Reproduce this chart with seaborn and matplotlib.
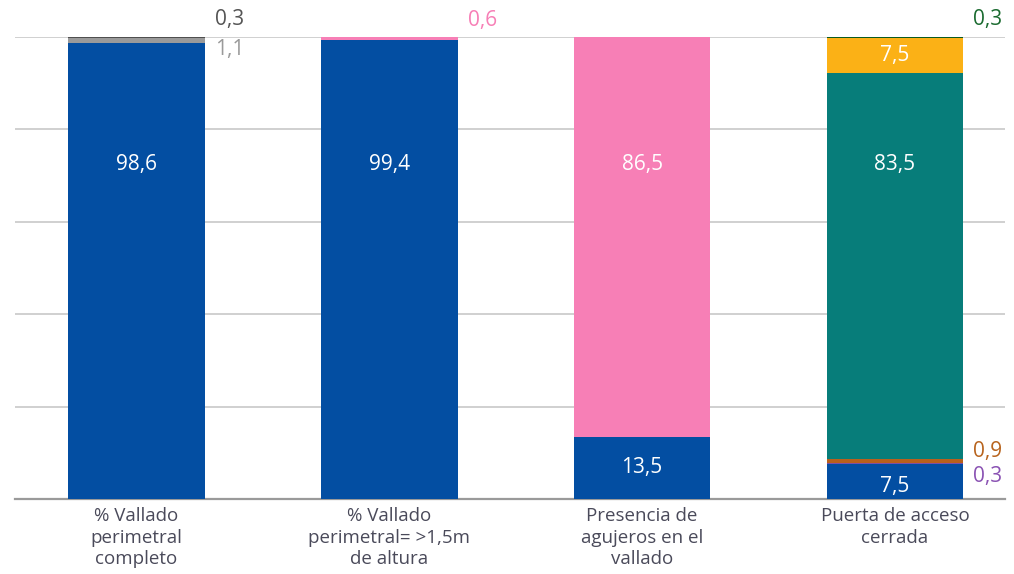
import matplotlib
matplotlib.use("Agg")
import matplotlib.pyplot as plt
import seaborn as sns
import pandas as pd
import numpy as np

categories = ["% Vallado\nperimetral\ncompleto",
              "% Vallado\nperimetral= >1,5m\nde altura",
              "Presencia de\nagujeros en el\nvallado",
              "Puerta de acceso\ncerrada"]

# layers bottom -> top
azul = [98.6, 99.4, 13.5, 7.5]
morado = [0, 0, 0, 0.3]
naranja = [0, 0, 0, 0.9]
rosa = [0, 0.6, 86.5, 0]
teal = [0, 0, 0, 83.5]
gris_claro = [1.1, 0, 0, 0]
amarillo = [0, 0, 0, 7.5]
gris_oscuro = [0.3, 0, 0, 0]
verde = [0, 0, 0, 0.3]

layers = [azul, morado, naranja, rosa, teal, gris_claro, amarillo, gris_oscuro, verde]
colors = ["#034ea2", "#7d4ea6", "#b8601c", "#f77fb6", "#077d7a",
          "#9a9a9a", "#fbb116", "#4f4f4f", "#0b5a1f"]
label_colors = ["#ffffff", "#8a52b3", "#b8641e", "#f77fb6", "#ffffff",
                "#9a9a9a", "#ffffff", "#555555", "#1b6b30"]

sns.set_theme(style="white")
plt.rcParams["font.family"] = ["Open Sans", "DejaVu Sans"]

fig = plt.figure(figsize=(10.14, 5.74), dpi=100)
ax = fig.add_axes([0.0148, 0.1307, 0.9763, 0.8048])

cum = np.cumsum(np.array(layers, dtype=float), axis=0)
for k in range(len(layers) - 1, -1, -1):
    df = pd.DataFrame({"cat": categories, "val": cum[k]})
    sns.barplot(data=df, x="cat", y="val", color=colors[k], width=0.54,
                saturation=1, ax=ax, linewidth=0, zorder=3)

ax.set_ylim(0, 100)
ax.set_xlim(-0.48, 3.435)
ax.set_yticks([0, 20, 40, 60, 80, 100])
ax.set_yticklabels([])
ax.yaxis.grid(True, color="#c4c4c4", linewidth=1.1)
ax.set_axisbelow(True)
ax.tick_params(axis="y", length=0)
ax.tick_params(axis="x", length=0, pad=6, labelsize=13.5, labelcolor="#4a4a5a")
for lab in ax.get_xticklabels():
    lab.set_linespacing(1.25)
ax.set_xlabel("")
ax.set_ylabel("")
for s in ["left", "right", "top"]:
    ax.spines[s].set_visible(False)
ax.spines["bottom"].set_color("#9a9a9a")
ax.spines["bottom"].set_linewidth(1.6)

def fmt(v):
    return f"{v:.1f}".replace(".", ",")

half = 0.27
NUM_FS = 15
# inside labels: (bar, layer)
inside = [(0, 0), (1, 0), (2, 0), (3, 0), (2, 3), (3, 4), (3, 6)]
for (i, k) in inside:
    v = layers[k][i]
    base = cum[k][i] - v
    y = 72.3 if v > 50 else base + v / 2
    if (i, k) == (3, 0):
        y = 2.8
    ax.text(i, y, fmt(v), ha="center", va="center", color="white",
            fontsize=NUM_FS, zorder=5)

# outside labels: (bar, layer, vertical offset in px)
outside = [(0, 7, 18), (0, 5, -9), (1, 3, 18), (3, 8, 18), (3, 2, 9), (3, 1, -13)]
for (i, k, dy) in outside:
    v = layers[k][i]
    yc = cum[k][i] - v / 2
    ax.annotate(fmt(v), xy=(i + half, yc), xytext=(10 * 0.72, dy * 0.72),
                textcoords="offset points", ha="left", va="center",
                color=label_colors[k], fontsize=NUM_FS, annotation_clip=False)

fig.savefig("out.png", dpi=100)
